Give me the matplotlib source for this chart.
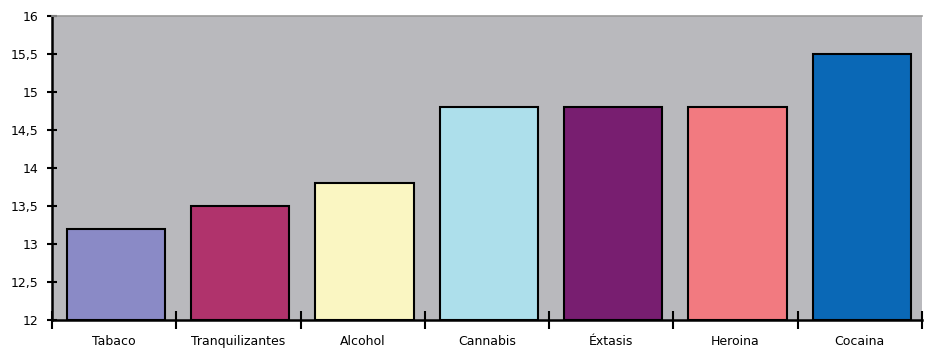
import matplotlib.pyplot as plt
import numpy as np
from matplotlib.ticker import FixedLocator, FuncFormatter

# data
categories = ['Tabaco', 'Tranquilizantes', 'Alcohol', 'Cannabis', 'Éxtasis', 'Heroina', 'Cocaina']
values = [13.2, 13.5, 13.8, 14.8, 14.8, 14.8, 15.5]
colors = ['#8a8ac6', '#b0336c', '#faf6c2', '#addfeb', '#781e70', '#f27a80', '#0a68b6']
yticks = [12, 12.5, 13, 13.5, 14, 14.5, 15, 15.5, 16]

fig = plt.figure(figsize=(9.25, 3.51), dpi=100)
ax = fig.add_axes([52 / 925, 1 - 320 / 351, (922 - 52) / 925, (320 - 16) / 351])
ax.set_facecolor('#b9b9bd')

x = np.arange(len(categories))
ax.bar(x + 0.015, np.array(values) - 12, bottom=12, width=0.79, color=colors,
       edgecolor='black', linewidth=1.5, zorder=3)

ax.set_xlim(-0.5, len(categories) - 0.5)
ax.set_ylim(12, 16)

# y axis with comma decimals
ax.yaxis.set_major_locator(FixedLocator(yticks))
ax.yaxis.set_major_formatter(FuncFormatter(lambda v, p: ('%g' % v).replace('.', ',')))
ax.tick_params(axis='y', direction='inout', length=7, width=1.5, labelsize=9, pad=6)

# x ticks at boundaries, labels at centers
ax.set_xticks(np.arange(len(categories) + 1) - 0.5)
ax.set_xticklabels([])
ax.set_xticks(x, minor=True)
ax.set_xticklabels(categories, minor=True, fontsize=9)
ax.tick_params(axis='x', which='major', direction='inout', length=13, width=1.5)
ax.tick_params(axis='x', which='minor', length=0, pad=11)

for s in ['left', 'bottom']:
    ax.spines[s].set_linewidth(1.8)
ax.spines['top'].set_color('#9a9a9a')
ax.spines['top'].set_linewidth(1.2)
ax.spines['right'].set_visible(False)

fig.savefig('out.png', dpi=100, facecolor='white')
